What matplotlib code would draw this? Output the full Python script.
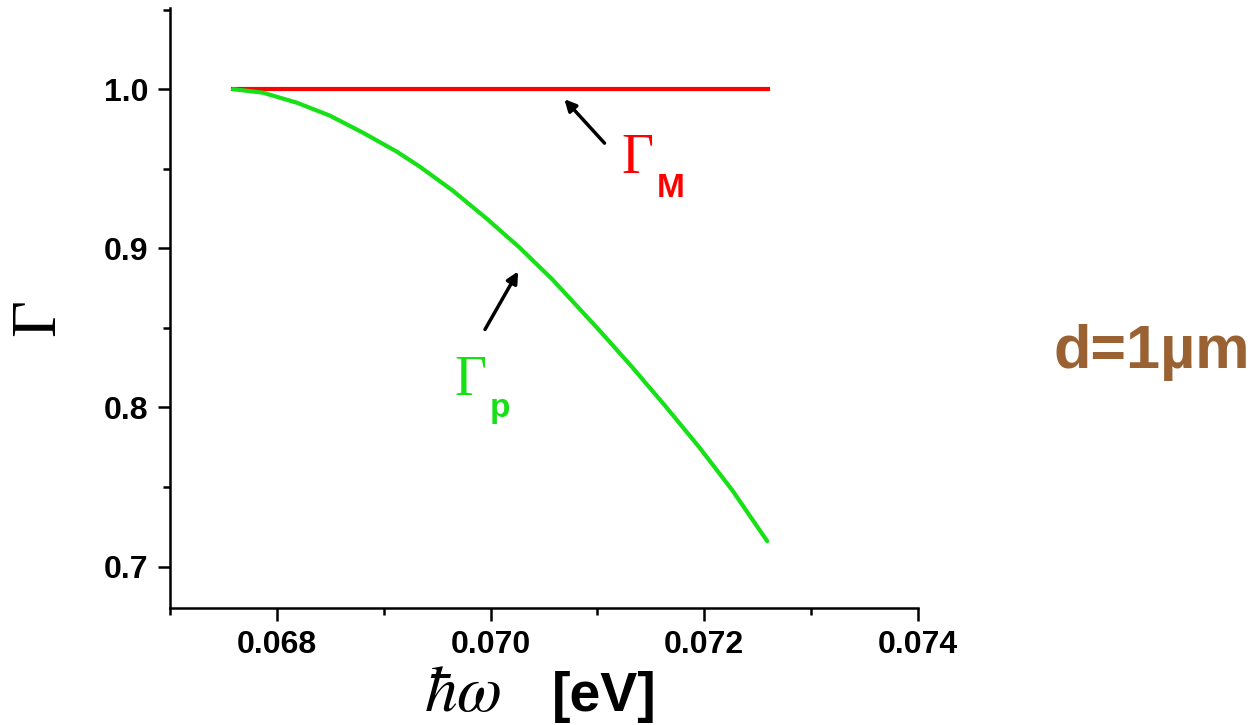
import matplotlib

matplotlib.use("Agg")
import matplotlib.pyplot as plt
from matplotlib.ticker import MultipleLocator

plt.rcParams["mathtext.fontset"] = "stix"

# photon energy (eV) and reflection coefficients
energy_p = [0.067589, 0.067869, 0.068187, 0.068495, 0.068804, 0.069121,
            0.069336, 0.069645, 0.069963, 0.070271, 0.070579, 0.071019,
            0.071327, 0.071645, 0.071953, 0.072262, 0.072589]
gamma_p = [1.0, 0.9978, 0.9915, 0.9834, 0.9727, 0.9608, 0.9514, 0.9363,
           0.9187, 0.9005, 0.8804, 0.8484, 0.8252, 0.8001, 0.7750, 0.7480,
           0.7160]
energy_m = [0.067589, 0.072600]
gamma_m = [1.0, 1.0]

W, H = 1260, 725
fig = plt.figure(figsize=(W / 100, H / 100), dpi=100)
ax = fig.add_axes([170 / W, 1 - 608 / H, (918 - 170) / W, (608 - 8) / H])

ax.plot(energy_m, gamma_m, color="#ff0000", lw=3)
ax.plot(energy_p, gamma_p, color="#16e016", lw=3, solid_capstyle="round",
        solid_joinstyle="round")

ax.set_xlim(0.067, 0.074)
ax.set_ylim(0.674, 1.051)
ax.xaxis.set_minor_locator(MultipleLocator(0.001))
ax.yaxis.set_minor_locator(MultipleLocator(0.05))
ax.set_xticks([0.068, 0.070, 0.072, 0.074])
ax.set_xticklabels(["0.068", "0.070", "0.072", "0.074"])
ax.set_yticks([0.7, 0.8, 0.9, 1.0])
ax.set_yticklabels(["0.7", "0.8", "0.9", "1.0"])

for s in ["top", "right"]:
    ax.spines[s].set_visible(False)
for s in ["left", "bottom"]:
    ax.spines[s].set_linewidth(1.8)
ax.tick_params(which="major", direction="out", length=9, width=1.8, pad=6.5)
ax.tick_params(which="minor", direction="out", length=5, width=1.8)
for lab in ax.get_xticklabels() + ax.get_yticklabels():
    lab.set_fontfamily("Liberation Sans")
    lab.set_fontweight("bold")
    lab.set_fontsize(23)

# curve labels with arrows
ax.annotate("", xy=(0.070673, 0.995), xytext=(0.071084, 0.9648),
            arrowprops=dict(arrowstyle="-|>", lw=2.5, color="k", mutation_scale=17))
ax.annotate("", xy=(0.070271, 0.887), xytext=(0.069935, 0.8475),
            arrowprops=dict(arrowstyle="-|>", lw=2.5, color="k", mutation_scale=17))
ax.text(0.071224, 0.9473, "Γ", family="Liberation Serif", fontsize=40,
        color="#ff0000", va="baseline")
ax.text(0.071551, 0.9322, "M", family="Liberation Sans", fontweight="bold",
        fontsize=24, color="#ff0000", va="baseline")
ax.text(0.069664, 0.8079, "Γ", family="Liberation Serif", fontsize=40,
        color="#16e016", va="baseline")
ax.text(0.069991, 0.7941, "p", family="Liberation Sans", fontweight="bold",
        fontsize=24, color="#16e016", va="baseline")

# axis labels
fig.text(39 / W, 1 - 318 / H, "Γ", family="Liberation Serif", fontsize=46,
         rotation=90, ha="center", va="center")
fig.text(424 / W, 1 - 711 / H, r"$\hbar\omega$", fontsize=47, va="baseline")
fig.text(552 / W, 1 - 711 / H, "[eV]", family="Liberation Sans",
         fontweight="bold", fontsize=40, va="baseline")

fig.text(1053 / W, 1 - 368 / H, "d=1µm", family="Liberation Sans",
         fontweight="bold", fontsize=44, color="#9a6233", va="baseline")

fig.savefig("out.png", dpi=100)
